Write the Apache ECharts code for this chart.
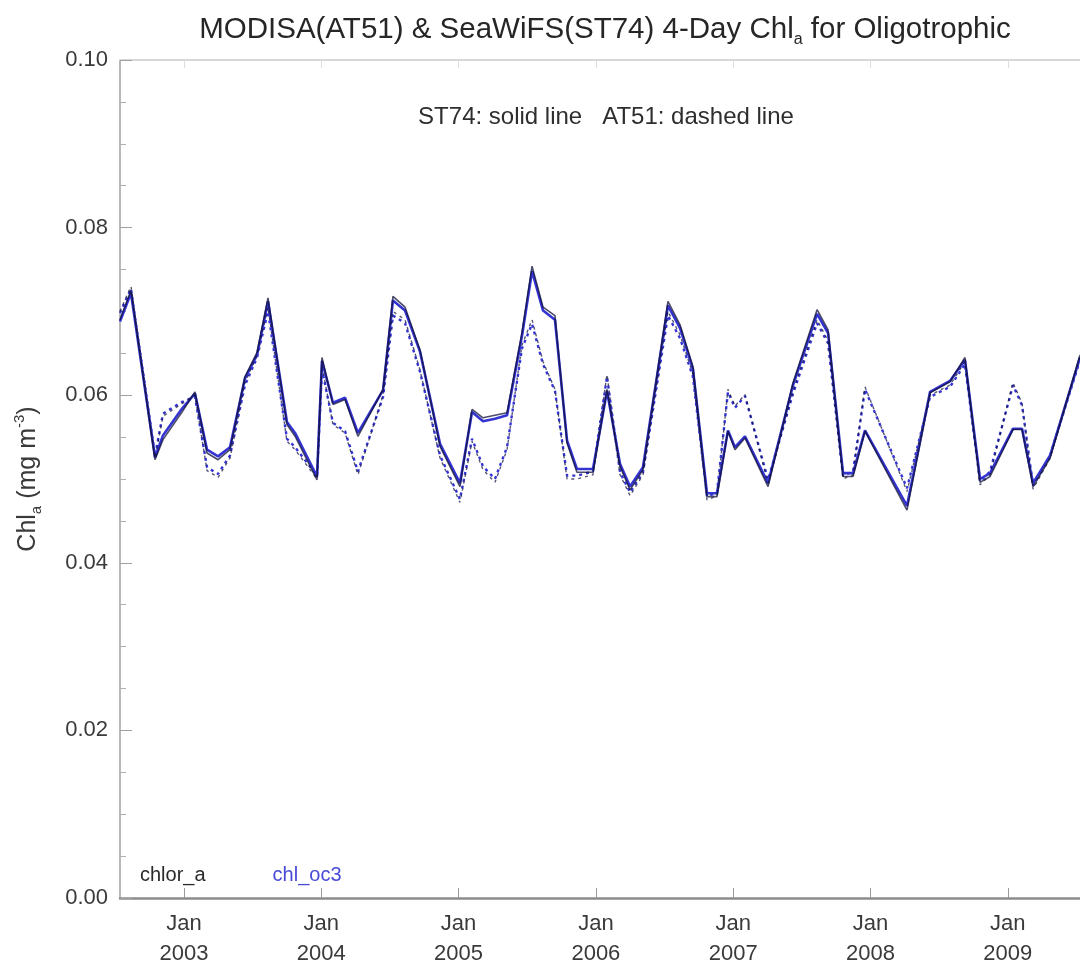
<!DOCTYPE html>
<html>
<head>
<meta charset="utf-8">
<title>MODISA & SeaWiFS 4-Day Chl_a</title>
<script src="https://cdn.jsdelivr.net/npm/echarts@6/dist/echarts.min.js"></script>
<style>
  html, body { margin: 0; padding: 0; background: #ffffff; }
  #chart { width: 1080px; height: 969px; }
</style>
</head>
<body>
<div id="chart"></div>
<script>
// Sample times (decimal years) shared by all four time series
const years = [
  2002.534, 2002.614, 2002.789, 2002.847, 2002.986, 2003.080, 2003.168, 2003.248, 2003.335, 2003.444,
  2003.532, 2003.612, 2003.750, 2003.809, 2003.969, 2004.005, 2004.085, 2004.173, 2004.267, 2004.450,
  2004.522, 2004.610, 2004.719, 2004.865, 2005.010, 2005.098, 2005.178, 2005.265, 2005.353, 2005.462,
  2005.535, 2005.615, 2005.702, 2005.790, 2005.862, 2005.979, 2006.081, 2006.176, 2006.249, 2006.343,
  2006.525, 2006.613, 2006.707, 2006.809, 2006.882, 2006.962, 2007.013, 2007.086, 2007.254, 2007.436,
  2007.611, 2007.691, 2007.800, 2007.873, 2007.960, 2008.266, 2008.434, 2008.579, 2008.688, 2008.798,
  2008.871, 2009.038, 2009.104, 2009.184, 2009.308, 2009.526
];

// SeaWiFS (ST74), chlor_a
const st74ChlorA = [
  0.0690, 0.0725, 0.0523, 0.0547, 0.0580, 0.0604, 0.0531, 0.0523, 0.0535, 0.0622,
  0.0651, 0.0716, 0.0565, 0.0551, 0.0499, 0.0645, 0.0589, 0.0595, 0.0551, 0.0607,
  0.0718, 0.0705, 0.0654, 0.0539, 0.0491, 0.0583, 0.0573, 0.0576, 0.0579, 0.0675,
  0.0754, 0.0705, 0.0695, 0.0543, 0.0508, 0.0508, 0.0607, 0.0515, 0.0487, 0.0511,
  0.0712, 0.0684, 0.0634, 0.0479, 0.0479, 0.0557, 0.0535, 0.0549, 0.0491, 0.0615,
  0.0702, 0.0678, 0.0503, 0.0503, 0.0557, 0.0463, 0.0603, 0.0616, 0.0645, 0.0496,
  0.0503, 0.0559, 0.0559, 0.0491, 0.0525, 0.0648
];

// SeaWiFS (ST74), chl_oc3
const st74ChlOc3 = [
  0.0688, 0.0722, 0.0526, 0.0552, 0.0584, 0.0602, 0.0535, 0.0527, 0.0538, 0.0620,
  0.0648, 0.0712, 0.0568, 0.0555, 0.0503, 0.0641, 0.0591, 0.0597, 0.0555, 0.0606,
  0.0713, 0.0701, 0.0652, 0.0542, 0.0495, 0.0580, 0.0569, 0.0572, 0.0576, 0.0671,
  0.0748, 0.0701, 0.0690, 0.0546, 0.0512, 0.0512, 0.0605, 0.0518, 0.0491, 0.0514,
  0.0707, 0.0680, 0.0631, 0.0483, 0.0483, 0.0558, 0.0538, 0.0551, 0.0495, 0.0612,
  0.0697, 0.0674, 0.0507, 0.0507, 0.0558, 0.0468, 0.0604, 0.0617, 0.0642, 0.0500,
  0.0507, 0.0560, 0.0560, 0.0495, 0.0528, 0.0645
];

// MODIS-Aqua (AT51), chlor_a
const at51ChlorA = [
  0.0700, 0.0730, 0.0525, 0.0575, 0.0590, 0.0600, 0.0510, 0.0502, 0.0525, 0.0615,
  0.0648, 0.0705, 0.0545, 0.0535, 0.0500, 0.0635, 0.0565, 0.0555, 0.0505, 0.0600,
  0.0700, 0.0690, 0.0630, 0.0525, 0.0472, 0.0545, 0.0511, 0.0496, 0.0535, 0.0660,
  0.0690, 0.0640, 0.0607, 0.0500, 0.0500, 0.0505, 0.0625, 0.0505, 0.0480, 0.0505,
  0.0700, 0.0672, 0.0625, 0.0475, 0.0480, 0.0607, 0.0587, 0.0601, 0.0495, 0.0605,
  0.0690, 0.0665, 0.0500, 0.0505, 0.0610, 0.0485, 0.0600, 0.0612, 0.0640, 0.0493,
  0.0505, 0.0615, 0.0590, 0.0488, 0.0525, 0.0645
];

// MODIS-Aqua (AT51), chl_oc3
const at51ChlOc3 = [
  0.0698, 0.0727, 0.0528, 0.0578, 0.0592, 0.0598, 0.0514, 0.0506, 0.0528, 0.0612,
  0.0645, 0.0700, 0.0548, 0.0538, 0.0504, 0.0631, 0.0567, 0.0557, 0.0509, 0.0598,
  0.0695, 0.0686, 0.0628, 0.0528, 0.0476, 0.0548, 0.0515, 0.0500, 0.0538, 0.0656,
  0.0685, 0.0637, 0.0605, 0.0504, 0.0504, 0.0509, 0.0622, 0.0508, 0.0484, 0.0508,
  0.0695, 0.0668, 0.0622, 0.0479, 0.0484, 0.0604, 0.0585, 0.0599, 0.0499, 0.0602,
  0.0686, 0.0662, 0.0504, 0.0509, 0.0607, 0.0489, 0.0598, 0.0610, 0.0637, 0.0497,
  0.0509, 0.0612, 0.0588, 0.0492, 0.0528, 0.0642
];

// Axis ticks
const yearTicks = [2003, 2004, 2005, 2006, 2007, 2008, 2009];
const xRange = [2002.534, 2009.526];
const yRange = [0, 0.10];

const FONT = "'Liberation Sans', Arial, Helvetica, sans-serif";
const BLUE = '#3434d2';
const BLACK = '#10103a';

const pairs = (vals) => years.map((t, i) => [t, vals[i]]);

const chart = echarts.init(document.getElementById('chart'), null, { renderer: 'canvas' });

function lineSeries(name, vals, color, width, dashed, opacity) {
  return {
    name: name,
    type: 'line',
    data: pairs(vals),
    showSymbol: false,
    symbol: 'none',
    animation: false,
    color: color,
    lineStyle: {
      color: color,
      width: width,
      opacity: opacity,
      type: dashed ? [3, 4] : 'solid'
    },
    emphasis: { disabled: true }
  };
}

const option = {
  backgroundColor: '#ffffff',
  animation: false,
  textStyle: { fontFamily: FONT },
  grid: { left: 120, right: 0, top: 60, bottom: 71, containLabel: false },
  legend: {
    left: 130,
    top: 860,
    icon: 'none',
    itemWidth: 0,
    itemGap: 62,
    selectedMode: false,
    data: [
      { name: 'chlor_a', textStyle: { color: '#2a2a2a' } },
      { name: 'chl_oc3', textStyle: { color: '#4a4ad8' } }
    ],
    textStyle: { fontFamily: FONT, fontSize: 20, padding: 0 }
  },
  xAxis: [
    {
      type: 'value',
      position: 'bottom',
      min: xRange[0],
      max: xRange[1],
      axisLine: { show: true, onZero: false, lineStyle: { color: '#8c8c8c', width: 2.5 } },
      axisTick: { show: true, inside: true, length: 10, customValues: yearTicks, lineStyle: { color: '#9a9a9a', width: 1 } },
      axisLabel: {
        show: true,
        customValues: yearTicks,
        formatter: (v) => 'Jan\n' + Math.round(v),
        fontFamily: FONT,
        fontSize: 22,
        color: '#3a3a3a',
        lineHeight: 30,
        margin: 11
      },
      splitLine: { show: false }
    },
    {
      type: 'value',
      position: 'top',
      min: xRange[0],
      max: xRange[1],
      axisLine: { show: true, onZero: false, lineStyle: { color: '#d8d8d8', width: 2 } },
      axisTick: { show: true, inside: true, length: 8, customValues: yearTicks, lineStyle: { color: '#dddddd' } },
      axisLabel: { show: false },
      splitLine: { show: false }
    }
  ],
  yAxis: {
    type: 'value',
    min: yRange[0],
    max: yRange[1],
    interval: 0.02,
    name: '{m|Chl}{sub|a}{m| (mg m}{sup|-3}{m|)}',
    nameLocation: 'middle',
    nameGap: 76,
    nameRotate: 90,
    nameTextStyle: {
      fontFamily: FONT,
      color: '#3a3a3a',
      rich: {
        m: { fontFamily: FONT, fontSize: 25, color: '#3a3a3a', lineHeight: 32, verticalAlign: 'middle' },
        sub: { fontFamily: FONT, fontSize: 15, color: '#3a3a3a', lineHeight: 15, verticalAlign: 'bottom' },
        sup: { fontFamily: FONT, fontSize: 15, color: '#3a3a3a', lineHeight: 15, verticalAlign: 'top' }
      }
    },
    axisLine: { show: true, lineStyle: { color: '#a0a0a0', width: 1.5 } },
    axisTick: { show: true, inside: true, length: 12, lineStyle: { color: '#a0a0a0', width: 1 } },
    minorTick: { show: true, splitNumber: 4, length: 6, lineStyle: { color: '#b0b0b0', width: 1 } },
    axisLabel: {
      formatter: (v) => v.toFixed(2),
      fontFamily: FONT,
      fontSize: 22,
      color: '#3a3a3a',
      margin: 12
    },
    splitLine: { show: false },
    minorSplitLine: { show: false }
  },
  graphic: [
    {
      type: 'text',
      x: 605,
      y: 30,
      silent: true,
      style: {
        text: '{t|MODISA(AT51) & SeaWiFS(ST74) 4-Day Chl}{s|a}{t| for Oligotrophic}',
        align: 'center',
        verticalAlign: 'middle',
        rich: {
          t: { fontFamily: FONT, fontSize: 29.5, fill: '#262626', lineHeight: 36, verticalAlign: 'middle' },
          s: { fontFamily: FONT, fontSize: 16, fill: '#262626', lineHeight: 16, verticalAlign: 'bottom' }
        }
      }
    },
    {
      type: 'text',
      x: 606,
      y: 117,
      silent: true,
      style: {
        text: 'ST74: solid line   AT51: dashed line',
        align: 'center',
        verticalAlign: 'middle',
        font: '24px ' + FONT,
        fill: '#2e2e2e'
      }
    }
  ],
  series: [
    lineSeries('chl_oc3', st74ChlOc3, BLUE, 2.6, false, 1),
    lineSeries('chl_oc3', at51ChlOc3, BLUE, 2.4, true, 1),
    lineSeries('chlor_a', st74ChlorA, BLACK, 1.6, false, 0.75),
    lineSeries('chlor_a', at51ChlorA, BLACK, 1.4, true, 0.7)
  ]
};

chart.setOption(option);
</script>
</body>
</html>
